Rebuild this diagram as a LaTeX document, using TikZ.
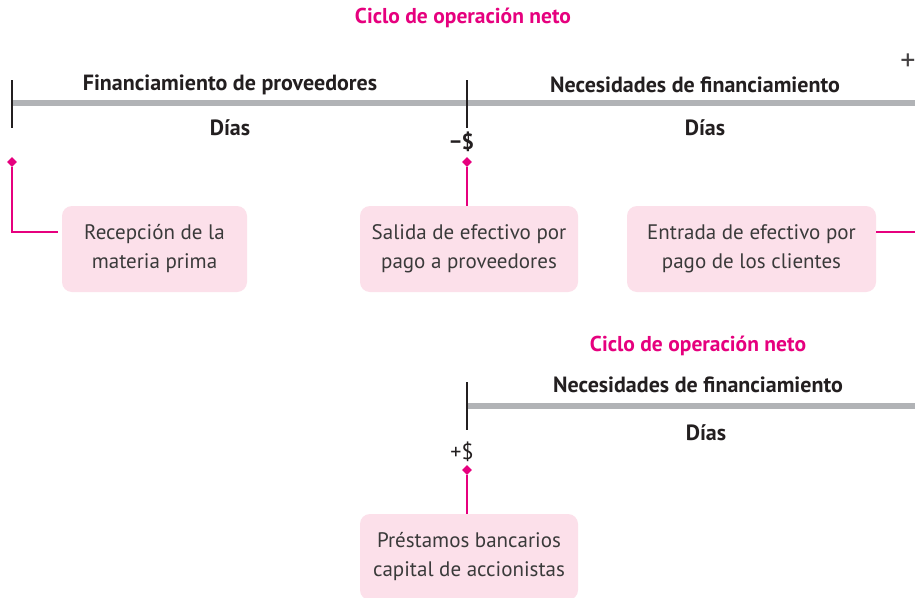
\documentclass[tikz,border=0pt]{standalone}
\usepackage{fontspec}
\setmainfont{PT Sans}
\usetikzlibrary{shapes.geometric,calc}
\definecolor{mag}{HTML}{E6007E}
\definecolor{boxpink}{HTML}{FCE0EA}
\definecolor{bargray}{HTML}{B1B3B6}
\definecolor{txt}{HTML}{231F20}
\definecolor{boxtxt}{HTML}{3A3A3A}
\tikzset{
  head/.style={font=\bfseries\fontsize{22}{24}\selectfont, text=txt, inner sep=0pt},
  title/.style={font=\bfseries\fontsize{21.5}{24}\selectfont, text=mag, inner sep=0pt},
  boxst/.style={fill=boxpink, rounded corners=10pt, align=center, text=boxtxt,
    font=\fontsize{21}{29}\selectfont, inner sep=0pt},
  dia/.style={diamond, fill=mag, inner sep=0pt, minimum size=10pt},
  pinkln/.style={draw=mag, line width=2pt},
  bar/.style={draw=bargray, line width=6pt},
  tick/.style={draw=txt, line width=1.2pt},
  money/.style={font=\fontsize{22}{24}\selectfont, text=txt, inner sep=0pt}
}
\begin{document}
\begin{tikzpicture}[x=1pt,y=-1pt]
\useasboundingbox (0,0) rectangle (915,597);
\fill[white] (0,0) rectangle (915,597);
% top timeline
\node[title] (t1) at (463,18) {Ciclo de operación neto};
\node[head] (h1) at (230,85) {Financiamiento de proveedores};
\node[head] (h2) at (695,85) {Necesidades de financiamiento};
\node[head] (d1t) at (230,128) {Días};
\node[head] (d2t) at (705,128) {Días};
\coordinate (bs) at (12,103);
\coordinate (be) at (915,103);
\draw[bar] (bs) -- (be);
\coordinate (k1a) at (12,80); \coordinate (k1b) at (12,128);
\coordinate (k2a) at (467,80); \coordinate (k2b) at (467,128);
\draw[tick] (k1a) -- (k1b);
\draw[tick] (k2a) -- (k2b);
\node[money] (m1) at (462,142) {\bfseries −\$};
\node[money, font=\fontsize{30}{32}\selectfont, text=txt!85] (m2) at (908,62) {+};
% diamonds and boxes
\node[dia] (p1) at (12,162) {};
\node[dia] (p2) at (467,162) {};
\node[boxst, minimum width=185pt, minimum height=86pt] (b1) at (154.5,249) {Recepción de la\\materia prima};
\node[boxst, minimum width=218pt, minimum height=86pt] (b2) at (469,249) {Salida de efectivo por\\pago a proveedores};
\node[boxst, minimum width=249pt, minimum height=86pt] (b3) at (751.5,249) {Entrada de efectivo por\\pago de los clientes};
\coordinate (c1) at (58,232);
\coordinate (c3) at (915,232);
\draw[pinkln] (p1) |- (c1);
\draw[pinkln] (p2) -- (p2 |- b2.north);
\draw[pinkln] (b3.east |- c3) -- (c3);
% bottom timeline
\node[title] (t2) at (698,346) {Ciclo de operación neto};
\node[head] (h3) at (698,385) {Necesidades de financiamiento};
\node[head] (d3t) at (706,433) {Días};
\coordinate (bs2) at (467,406);
\coordinate (be2) at (915,406);
\draw[bar] (bs2) -- (be2);
\coordinate (k3a) at (467,382); \coordinate (k3b) at (467,430);
\draw[tick] (k3a) -- (k3b);
\node[money] (m3) at (462,452) {+\$};
\node[dia] (p3) at (467,470) {};
\node[boxst, minimum width=218pt, minimum height=86pt] (b4) at (469,557) {Préstamos bancarios\\capital de accionistas};
\draw[pinkln] (p3) -- (p3 |- b4.north);
\end{tikzpicture}
\end{document}
